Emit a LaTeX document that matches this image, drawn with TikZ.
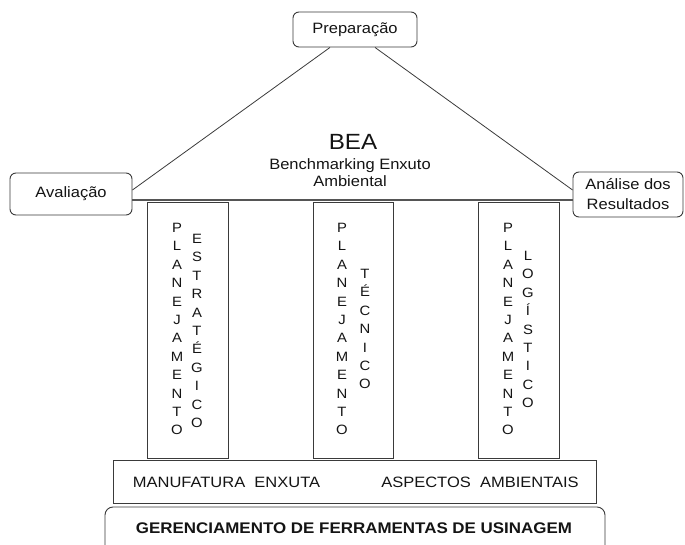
\documentclass[tikz,border=0pt]{standalone}
\usepackage{fontspec}
\setmainfont[FakeStretch=1.1]{Liberation Sans}
\definecolor{boxc}{HTML}{3A3A3A}
\definecolor{linec}{HTML}{555555}
\definecolor{txt}{HTML}{141414}
\begin{document}
\begin{tikzpicture}[x=1pt,y=-1pt,
  box/.style={draw=boxc, line width=0.9pt, rounded corners=6pt, fill=white, inner sep=0pt, align=center, text=txt, font=\fontsize{15}{20}\selectfont},
  pillar/.style={draw=boxc, line width=0.9pt, inner sep=0pt, minimum height=256pt},
  col/.style={anchor=north, inner sep=0pt, align=center, font=\fontsize{13.5}{18.4}\selectfont, text=txt},
  conn/.style={draw=boxc, line width=0.8pt},
  base/.style={draw=boxc, line width=0.9pt},
  lbl/.style={inner sep=0pt, text=txt, font=\fontsize{15}{18}\selectfont},
]
\useasboundingbox (0,0) rectangle (685,545);
% top boxes
\node[box, minimum width=124pt, minimum height=35pt] (prep) at (355,29.5) {Preparação};
\node[box, minimum width=122pt, minimum height=42pt] (aval) at (71,194) {Avaliação};
\node[box, minimum width=110pt, minimum height=45pt] (anal) at (628,194.5) {Análise dos\\Resultados};
% roof
\draw[conn] ([xshift=-25pt]prep.south) -- ([yshift=4pt]aval.east);
\draw[conn] ([xshift=20pt]prep.south) -- ([yshift=4.5pt]anal.west);
\draw[draw=linec, line width=1.6pt] ([yshift=-6pt]aval.east) -- ([yshift=-5.5pt]anal.west);
% title
\node[lbl, font=\fontsize{22}{24}\selectfont] (bea) at (353,142) {BEA};
\node[lbl, align=center, font=\fontsize{15}{17}\selectfont] (beasub) at (350,172.5) {Benchmarking Enxuto\\Ambiental};
% pillars
\node[pillar, minimum width=81pt] (p1) at (187.5,330) {};
\node[pillar, minimum width=80pt] (p2) at (353,330) {};
\node[pillar, minimum width=81pt] (p3) at (518.5,330) {};
\node[col] (p1a) at (177,223) {P\\L\\A\\N\\E\\J\\A\\M\\E\\N\\T\\O};
\node[col] (p1b) at (197,234) {E\\S\\T\\R\\A\\T\\É\\G\\I\\C\\O};
\node[col] (p2a) at (342,223) {P\\L\\A\\N\\E\\J\\A\\M\\E\\N\\T\\O};
\node[col] (p2b) at (365,269) {T\\É\\C\\N\\I\\C\\O};
\node[col] (p3a) at (508,223) {P\\L\\A\\N\\E\\J\\A\\M\\E\\N\\T\\O};
\node[col] (p3b) at (528,251) {L\\O\\G\\Í\\S\\T\\I\\C\\O};
% base
\node[base, minimum width=483pt, minimum height=43pt] (manu) at (354.5,481.5) {};
\node[lbl] (me) at (226.5,482) {MANUFATURA\ \ ENXUTA};
\node[lbl] (aa) at (480,482) {ASPECTOS\ \ AMBIENTAIS};
\draw[base, rounded corners=8pt] (105,548) |- (605,507) -- (605,548);
\node[lbl, font=\bfseries\fontsize{15.4}{18}\selectfont] (ger) at (354,528) {GERENCIAMENTO\ DE\ FERRAMENTAS\ DE\ USINAGEM};
\end{tikzpicture}
\end{document}
